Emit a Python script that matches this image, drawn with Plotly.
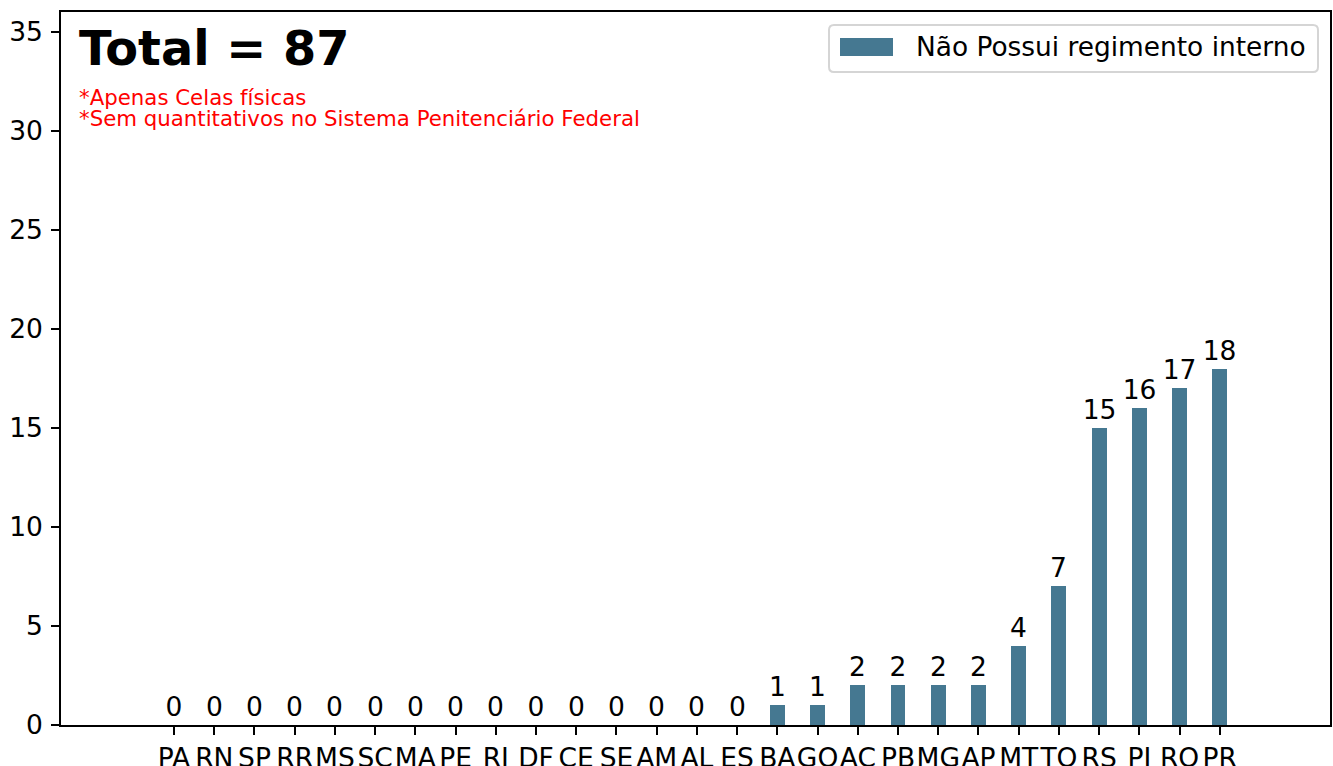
import plotly.graph_objects as go

estados = ["PA", "RN", "SP", "RR", "MS", "SC", "MA", "PE", "RJ", "DF", "CE", "SE", "AM", "AL", "ES",
           "BA", "GO", "AC", "PB", "MG", "AP", "MT", "TO", "RS", "PI", "RO", "PR"]
nao_possui = [0, 0, 0, 0, 0, 0, 0, 0, 0, 0, 0, 0, 0, 0, 0,
              1, 1, 2, 2, 2, 2, 4, 7, 15, 16, 17, 18]
serie_nome = "Não Possui regimento interno"
notas = ["*Apenas Celas físicas", "*Sem quantitativos no Sistema Penitenciário Federal"]
y_ticks = [0, 5, 10, 15, 20, 25, 30, 35]

BAR = "#457891"
FONT = "DejaVu Sans, Liberation Sans, sans-serif"
FS = 26.5

W, H = 1333, 766
ML, MR, MT, MB = 61, 3, 12, 41
PW, PH = W - ML - MR, H - MT - MB


def px(x):
    return (x - ML) / PW


def py(y):
    return (H - MB - y) / PH


fig = go.Figure()
fig.add_trace(go.Bar(
    x=list(range(len(estados))), y=nao_possui, name=serie_nome,
    marker=dict(color=BAR, line=dict(width=0)), width=0.37,
    text=[str(v) for v in nao_possui], textposition="outside",
    textfont=dict(family=FONT, size=FS, color="black"),
    constraintext="none", cliponaxis=False, showlegend=False,
))

total = sum(nao_possui)
annotations = [
    dict(text=f"<b>Total = {total}</b>", xref="paper", yref="paper", x=px(77), y=py(48),
         xanchor="left", yanchor="middle", showarrow=False,
         font=dict(family=FONT, size=47.8, color="black")),
    dict(text=notas[0], xref="paper", yref="paper", x=px(77), y=py(97),
         xanchor="left", yanchor="middle", showarrow=False,
         font=dict(family=FONT, size=21.3, color="#ff0000")),
    dict(text=notas[1], xref="paper", yref="paper", x=px(77), y=py(118),
         xanchor="left", yanchor="middle", showarrow=False,
         font=dict(family=FONT, size=21.3, color="#ff0000")),
    dict(text=serie_nome, xref="paper", yref="paper", x=px(914), y=py(47),
         xanchor="left", yanchor="middle", showarrow=False,
         font=dict(family=FONT, size=26.4, color="black")),
]

# legend box (rounded) in paper coords
x0, x1, y0, y1 = 829, 1318, 25, 72
r = 5
rx, ry = r / PW, r / PH
X0, X1, Y0, Y1 = px(x0), px(x1), py(y1), py(y0)
path = (f"M{X0+rx},{Y0} L{X1-rx},{Y0} Q{X1},{Y0} {X1},{Y0+ry} L{X1},{Y1-ry} Q{X1},{Y1} {X1-rx},{Y1} "
        f"L{X0+rx},{Y1} Q{X0},{Y1} {X0},{Y1-ry} L{X0},{Y0+ry} Q{X0},{Y0} {X0+rx},{Y0} Z")
shapes = [
    dict(type="path", path=path, xref="paper", yref="paper",
         line=dict(color="#d5d5d5", width=2), fillcolor="rgba(255,255,255,0.85)", layer="above"),
    dict(type="rect", xref="paper", yref="paper", x0=px(840), x1=px(893), y0=py(56), y1=py(38),
         line=dict(width=0), fillcolor=BAR, layer="above"),
]

fig.update_layout(
    width=W, height=H,
    margin=dict(l=ML, r=MR, t=MT, b=MB, pad=0),
    paper_bgcolor="white", plot_bgcolor="white",
    font=dict(family=FONT, size=FS, color="black"),
    showlegend=False,
    annotations=annotations, shapes=shapes,
    bargap=0,
)
fig.update_xaxes(
    range=[-2.81, 28.74], tickmode="array", tickvals=list(range(len(estados))), ticktext=estados,
    ticks="outside", ticklen=8, tickwidth=1.6, tickcolor="black",
    showline=True, linecolor="black", linewidth=1.6, mirror=True, automargin=False,
    showgrid=False, zeroline=False, tickfont=dict(family=FONT, size=FS, color="black"), tickangle=0,
)
fig.update_yaxes(
    range=[0, 36], tickmode="array", tickvals=y_ticks,
    ticks="outside", ticklen=8, tickwidth=1.6, tickcolor="black",
    showline=True, linecolor="black", linewidth=1.6, mirror=True, automargin=False,
    showgrid=False, zeroline=False, tickfont=dict(family=FONT, size=FS, color="black"),
    ticklabelstandoff=3,
)

fig.write_html(
    "out.html",
    config={"displayModeBar": False},
    post_script="document.body.style.margin='0';document.body.style.overflow='hidden';",
)
